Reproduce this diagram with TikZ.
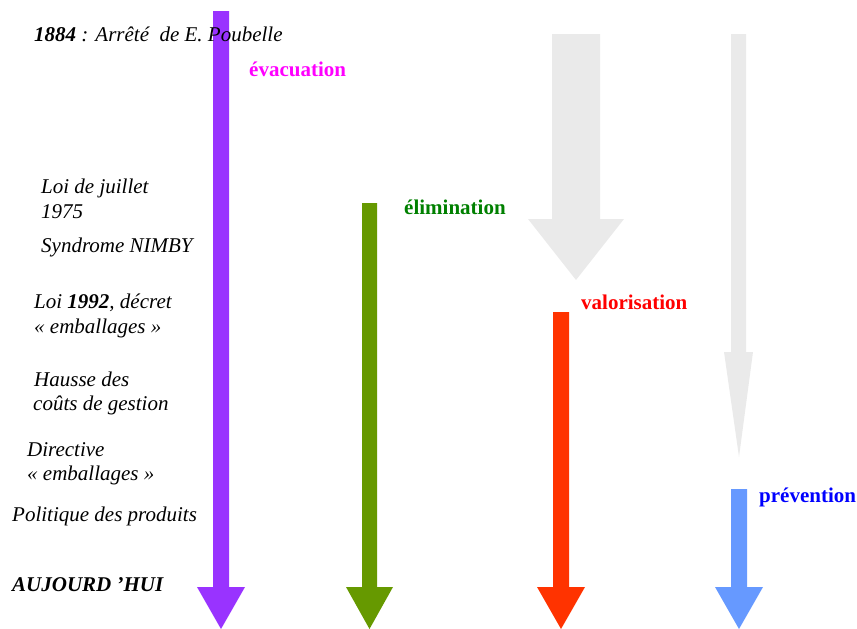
\documentclass[tikz,border=0pt]{standalone}
\usepackage{fontspec}
\setmainfont{Liberation Serif}
\definecolor{cPurple}{HTML}{9933FF}
\definecolor{cGreen}{HTML}{669900}
\definecolor{cRed}{HTML}{FF3300}
\definecolor{cBlue}{HTML}{6699FF}
\definecolor{cGray}{HTML}{EAEAEA}
\definecolor{tMagenta}{HTML}{FF00FF}
\definecolor{tGreen}{HTML}{008000}
\definecolor{tRed}{HTML}{FF0000}
\definecolor{tBlue}{HTML}{0000FF}
\begin{document}
\begin{tikzpicture}[x=1pt,y=-1pt,
  lbl/.style={anchor=base west, inner sep=0pt, font=\fontsize{21}{25}\selectfont\itshape},
  cat/.style={anchor=base west, inner sep=0pt, font=\fontsize{21}{25}\selectfont\bfseries}]
\useasboundingbox (0,0) rectangle (857,629);
% gray arrows
\fill[cGray] (552,34) -- (600,34) -- (600,219) -- (624,219) -- (576,280) -- (528,219) -- (552,219) -- cycle;
\fill[cGray] (731,34) -- (746,34) -- (746,352) -- (753,352) -- (739,457) -- (724,352) -- (731,352) -- cycle;
% coloured arrows
\fill[cPurple] (213,11) -- (229,11) -- (229,587) -- (245,587) -- (221,629) -- (197,587) -- (213,587) -- cycle;
\fill[cGreen] (362,203) -- (377,203) -- (377,587) -- (393,587) -- (369.5,629) -- (346,587) -- (362,587) -- cycle;
\fill[cRed] (553,312) -- (569,312) -- (569,587) -- (585,587) -- (561,629) -- (537,587) -- (553,587) -- cycle;
\fill[cBlue] (731,489) -- (747,489) -- (747,587) -- (763,587) -- (739,629) -- (715,587) -- (731,587) -- cycle;
% category labels
\node[cat, text=tMagenta] (evac) at (249,76) {évacuation};
\node[cat, text=tGreen] (elim) at (404,214) {élimination};
\node[cat, text=tRed] (valo) at (581,309) {valorisation};
\node[cat, text=tBlue] (prev) at (759,502) {prévention};
% timeline texts
\node[lbl] (t1884) at (34,41) {\textbf{1884} : Arrêté\ \ de E. Poubelle};
\node[lbl] (t1975a) at (41,193) {Loi de juillet};
\node[lbl] (t1975b) at (41,218) {1975};
\node[lbl] (nimby) at (41,252) {Syndrome NIMBY};
\node[lbl] (l92a) at (34,308) {Loi \textbf{1992}, décret};
\node[lbl] (l92b) at (34,333) {« emballages »};
\node[lbl] (hausa) at (34,386) {Hausse des};
\node[lbl] (hausb) at (33,410) {coûts de gestion};
\node[lbl] (dira) at (27,456) {Directive};
\node[lbl] (dirb) at (27,480) {« emballages »};
\node[lbl] (polit) at (12,521) {Politique des produits};
\node[lbl, font=\fontsize{21}{25}\selectfont\itshape\bfseries] (auj) at (12,591) {AUJOURD ’HUI};
\end{tikzpicture}
\end{document}
